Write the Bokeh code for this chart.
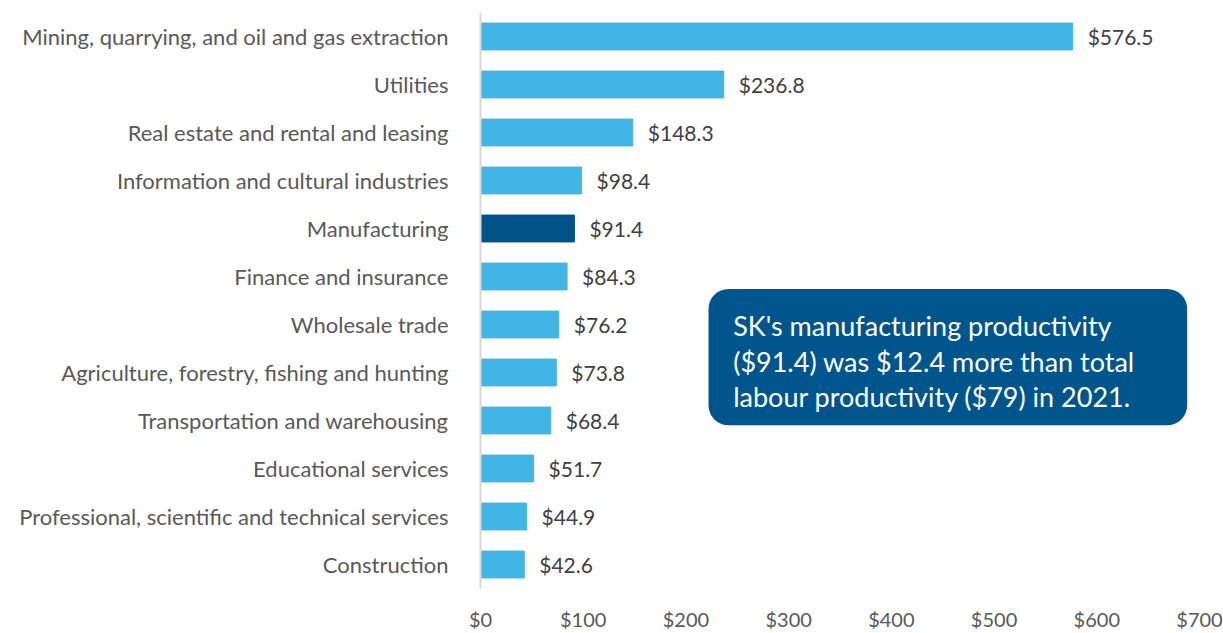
from bokeh.plotting import figure
from bokeh.models import Range1d, FixedTicker, NumeralTickFormatter, ColumnDataSource, BoxAnnotation, Label
from bokeh.core.properties import value
from bokeh.embed import file_html
from bokeh.resources import INLINE

industries = [
    "Mining, quarrying, and oil and gas extraction",
    "Utilities",
    "Real estate and rental and leasing",
    "Information and cultural industries",
    "Manufacturing",
    "Finance and insurance",
    "Wholesale trade",
    "Agriculture, forestry, fishing and hunting",
    "Transportation and warehousing",
    "Educational services",
    "Professional, scientific and technical services",
    "Construction",
]
productivity = [576.5, 236.8, 148.3, 98.4, 91.4, 84.3, 76.2, 73.8, 68.4, 51.7, 44.9, 42.6]
highlight = "Manufacturing"
x_ticks = [0, 100, 200, 300, 400, 500, 600, 700]
note_lines = [
    "SK's manufacturing productivity",
    "($91.4) was $12.4 more than total",
    "labour productivity ($79) in 2021.",
]

FONT = "Lato"
LIGHT = "#41B6E6"
DARK = "#005288"

n = len(industries)
ypos = [n - 0.5 - i for i in range(n)]
colors = [DARK if c == highlight else LIGHT for c in industries]
labels = [f"${v:.1f}" for v in productivity]

src = ColumnDataSource(dict(y=ypos, v=productivity, c=colors, lab=labels))

p = figure(width=1223, height=633, output_backend="svg", toolbar_location=None,
           x_range=Range1d(0, 700), y_range=Range1d(0, n),
           min_border_left=480, min_border_right=24, min_border_top=12, min_border_bottom=40)
p.outline_line_color = None
p.grid.visible = False
p.background_fill_color = "white"

p.hbar(y="y", right="v", left=0, height=0.56, color="c", source=src)
p.text(x="v", y="y", text="lab", source=src, x_offset=15,
       text_baseline="middle", text_align="left", text_font=value(FONT),
       text_font_size="21px", text_color="#404040")

# y axis
p.yaxis.ticker = FixedTicker(ticks=ypos)
p.yaxis.major_label_overrides = {y: name for y, name in zip(ypos, industries)}
p.yaxis.axis_line_color = "#d9d9d9"
p.yaxis.axis_line_width = 2
p.yaxis.major_tick_line_color = None
p.yaxis.minor_tick_line_color = None
p.yaxis.major_label_standoff = 26
p.yaxis.major_label_text_font = FONT
p.yaxis.major_label_text_font_size = "22px"
p.yaxis.major_label_text_color = "#595959"

# x axis
p.xaxis.ticker = FixedTicker(ticks=x_ticks)
p.xaxis.formatter = NumeralTickFormatter(format="$0")
p.xaxis.axis_line_color = None
p.xaxis.major_tick_line_color = None
p.xaxis.minor_tick_line_color = None
p.xaxis.major_label_standoff = 12
p.xaxis.major_label_text_font = FONT
p.xaxis.major_label_text_font_size = "20px"
p.xaxis.major_label_text_color = "#595959"

# callout box
box = BoxAnnotation(left=222, right=688, top=6.24, bottom=3.40,
                    fill_color="#00558C", fill_alpha=1.0, line_color=None,
                    border_radius=20)
p.add_layout(box)
note_y = [5.47, 4.72, 4.0]
for txt, yy in zip(note_lines, note_y):
    p.add_layout(Label(x=246, y=yy, text=txt, text_baseline="middle", text_align="left",
                       text_font=FONT, text_font_size="27px", text_color="white"))

open("out.html", "w").write(file_html(p, INLINE))
